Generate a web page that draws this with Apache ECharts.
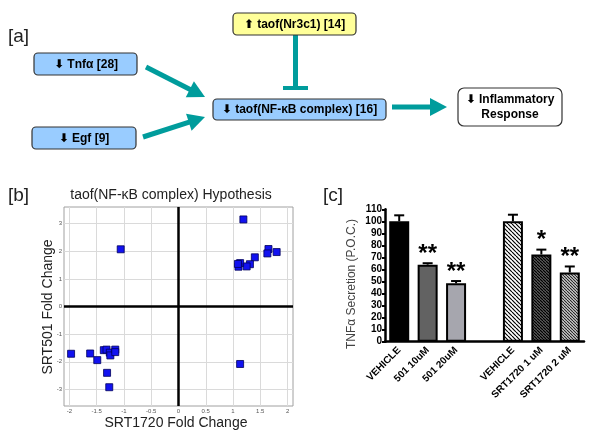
<!DOCTYPE html>
<html><head><meta charset="utf-8">
<script src="https://cdn.jsdelivr.net/npm/echarts@6/dist/echarts.min.js"></script>
<style>html,body{margin:0;padding:0;background:#fff}#c{width:600px;height:440px}</style>
</head><body><div id="c"></div>
<script>
// ---- Panel [b] data ----
const scatterX = [1.19, 1.65, 1.63, 1.80, 1.40, 1.31, 1.25, 1.13, 1.10, 1.09,
                  -1.06, 1.13,
                  -1.97, -1.62, -1.49, -1.37, -1.32, -1.26, -1.25, -1.16, -1.16, -1.31, -1.27];
const scatterY = [3.15, 2.08, 1.92, 1.97, 1.78, 1.53, 1.45, 1.57, 1.44, 1.54,
                  2.07, -2.08,
                  -1.71, -1.70, -1.94, -1.58, -1.56, -1.67, -1.77, -1.56, -1.65, -2.40, -2.92];
const xTicks = [-2, -1.5, -1, -0.5, 0, 0.5, 1, 1.5, 2];
const xTickLabels = ['-2', '-1.5', '-1', '-0.5', '0', '0.5', '1', '1.5', '2'];
const yTicks = [3, 2, 1, 0, -1, -2, -3];
const yTickLabels = ['3', '2', '1', '0', '-1', '-2', '-3'];

// ---- Panel [c] data ----
const barCategories = ['VEHICLE', '501 10uM', '501 20uM', '', 'VEHICLE', 'SRT1720 1 uM', 'SRT1720 2 uM'];
const barValues = [100, 64, 48.5, null, 100, 72.5, 57.5];
const barErrors = [5, 1.2, 1.9, null, 5.5, 4, 5];
const barSig = ['', '**', '**', '', '', '*', '**'];

const FONT = 'Liberation Sans, Arial, DejaVu Sans, sans-serif';
const TEAL = '#009c9c';

function hatch(bg, fg, size, lw) {
  const c = document.createElement('canvas');
  c.width = size; c.height = size;
  const g = c.getContext('2d');
  g.fillStyle = bg; g.fillRect(0, 0, size, size);
  g.strokeStyle = fg; g.lineWidth = lw;
  for (let k = -1; k <= 1; k++) {
    g.beginPath(); g.moveTo(k * size, 0); g.lineTo(k * size + size, size); g.stroke();
  }
  return c;
}
const barFills = [
  '#000000', '#626262', '#a6a6ae', '#ffffff',
  { image: hatch('#ffffff', '#000000', 4, 1.2), repeat: 'repeat' },
  { image: hatch('#707070', '#000000', 3, 1.3), repeat: 'repeat' },
  { image: hatch('#dcdcdc', '#222222', 3, 1.1), repeat: 'repeat' }
];

function txt(x, y, s, opts) {
  opts = opts || {};
  return {
    type: 'text', x: x, y: y, rotation: opts.rot || 0, z: 20,
    style: {
      text: s, fill: opts.color || '#000',
      font: (opts.weight || 'normal') + ' ' + (opts.size || 12) + 'px ' + FONT,
      textAlign: opts.align || 'center', align: opts.align || 'center',
      textVerticalAlign: 'middle', verticalAlign: 'middle',
      lineHeight: opts.lh || undefined
    }
  };
}
function box(x, y, w, h, fill, r) {
  return { type: 'rect', shape: { x: x, y: y, width: w, height: h, r: r || 4 }, z: 10,
           style: { fill: fill, stroke: '#333', lineWidth: 1.2 } };
}
function arrow(x1, y1, x2, y2) {
  const dx = x2 - x1, dy = y2 - y1, len = Math.hypot(dx, dy);
  const ux = dx / len, uy = dy / len, px = -uy, py = ux;
  const L = 17, W = 9;
  const bx = x2 - ux * L, by = y2 - uy * L;
  return [
    { type: 'line', z: 5, shape: { x1: x1, y1: y1, x2: bx + ux * 2, y2: by + uy * 2 }, style: { stroke: TEAL, lineWidth: 5 } },
    { type: 'polygon', z: 5, shape: { points: [[x2, y2], [bx + px * W, by + py * W], [bx - px * W, by - py * W]] }, style: { fill: TEAL } }
  ];
}

const graphics = [].concat(
  [txt(8, 37, '[a]', { size: 19, align: 'left', color: '#222' }),
   txt(8, 196, '[b]', { size: 19, align: 'left', color: '#222' }),
   txt(323, 196, '[c]', { size: 19, align: 'left', color: '#222' })],
  arrow(146, 67, 205, 97),
  arrow(143, 137, 205, 117),
  arrow(392, 107, 447, 107),
  [{ type: 'line', z: 5, shape: { x1: 295.5, y1: 35, x2: 295.5, y2: 88 }, style: { stroke: TEAL, lineWidth: 5 } },
   { type: 'line', z: 5, shape: { x1: 283, y1: 88, x2: 308, y2: 88 }, style: { stroke: TEAL, lineWidth: 4 } },
   box(34, 53, 103, 22, '#99ccff'), txt(86, 64.5, '⬇ Tnfα [28]', { weight: 'bold', size: 12 }),
   box(32, 127, 104, 22, '#99ccff'), txt(84, 138.5, '⬇ Egf [9]', { weight: 'bold', size: 12 }),
   box(233, 13, 123, 22, '#ffff99'), txt(294.5, 24.5, '⬆ taof(Nr3c1) [14]', { weight: 'bold', size: 12 }),
   box(213, 99, 173, 21, '#99ccff'), txt(299.5, 110, '⬇ taof(NF-κB complex) [16]', { weight: 'bold', size: 12 }),
   box(458, 88, 104, 38, '#ffffff', 6), txt(510, 107.5, '⬇ Inflammatory\nResponse', { weight: 'bold', size: 12, lh: 15 }),
   txt(171, 195, 'taof(NF-κB complex) Hypothesis', { size: 14, color: '#222' }),
   txt(48, 307, 'SRT501 Fold Change', { size: 14, color: '#222', rot: Math.PI / 2 }),
   txt(176, 423, 'SRT1720 Fold Change', { size: 14, color: '#222' }),
   txt(352, 284, 'TNFα Secretion (P.O.C.)', { size: 12, color: '#444', rot: Math.PI / 2 })]
);

const chart = echarts.init(document.getElementById('c'), null, { renderer: 'canvas' });
chart.setOption({
  animation: false,
  backgroundColor: '#fff',
  textStyle: { fontFamily: FONT },
  graphic: { elements: graphics },
  grid: [
    { left: 64, top: 207, width: 229, height: 199, show: true, borderColor: '#a0a0a0', borderWidth: 1, backgroundColor: '#fff' },
    { left: 385, top: 209.3, width: 199, height: 132.4 }
  ],
  xAxis: [
    { type: 'value', gridIndex: 0, min: -2.1, max: 2.1, axisLine: { show: false }, axisTick: { show: false }, axisLabel: { show: false }, splitLine: { show: false } },
    { type: 'category', gridIndex: 1, data: barCategories,
      axisLine: { lineStyle: { color: '#000', width: 2.5 } },
      axisTick: { alignWithLabel: true, length: 4, lineStyle: { color: '#000', width: 2 } },
      axisLabel: { rotate: 45, interval: 0, fontWeight: 'bold', fontSize: 10, color: '#000', margin: 7 } }
  ],
  yAxis: [
    { type: 'value', gridIndex: 0, min: -3.6, max: 3.6, axisLine: { show: false }, axisTick: { show: false }, axisLabel: { show: false }, splitLine: { show: false } },
    { type: 'value', gridIndex: 1, min: 0, max: 110, interval: 10,
      axisLine: { show: true, lineStyle: { color: '#000', width: 2.5 } },
      axisTick: { show: true, length: 3, lineStyle: { color: '#000', width: 2 } },
      axisLabel: { fontWeight: 'bold', fontSize: 10, color: '#000', margin: 3 },
      splitLine: { show: false } }
  ],
  series: [
    { type: 'line', xAxisIndex: 0, yAxisIndex: 0, data: [], z: 1,
      markLine: { silent: true, symbol: ['none', 'none'], animation: false,
        lineStyle: { color: '#dadada', width: 1, type: 'solid' },
        label: { show: true, position: 'start', fontSize: 6, color: '#555', distance: 2 },
        data: xTicks.map((v, i) => ({ xAxis: v, label: { formatter: xTickLabels[i] } }))
          .concat(yTicks.map((v, i) => ({ yAxis: v, label: { formatter: yTickLabels[i] } }))) } },
    { type: 'line', xAxisIndex: 0, yAxisIndex: 0, data: [], z: 2,
      markLine: { silent: true, symbol: ['none', 'none'], animation: false,
        lineStyle: { color: '#000', width: 2.5, type: 'solid' },
        label: { show: false },
        data: [{ xAxis: 0 }, { yAxis: 0 }] } },
    { type: 'scatter', xAxisIndex: 0, yAxisIndex: 0, z: 5, symbol: 'rect', symbolSize: 7,
      itemStyle: { color: '#1212f0', borderColor: '#00005a', borderWidth: 0.8, opacity: 1 },
      data: scatterX.map((x, i) => [x, scatterY[i]]) },
    { type: 'bar', xAxisIndex: 1, yAxisIndex: 1, barWidth: 20, z: 3,
      data: barValues.map((v, i) => v == null ? '-' : { value: v, itemStyle: { color: barFills[i], borderColor: '#000', borderWidth: 2 } }) },
    { type: 'custom', xAxisIndex: 1, yAxisIndex: 1, z: 4,
      encode: { x: 0, y: 1 },
      data: barValues.map((v, i) => v == null ? null : [i, v, barErrors[i]]).filter(d => d),
      renderItem: function (params, api) {
        const i = api.value(0), v = api.value(1), e = api.value(2);
        const base = api.coord([i, v]), top = api.coord([i, v + e]);
        const ch = [
          { type: 'line', shape: { x1: base[0], y1: base[1], x2: top[0], y2: top[1] }, style: { stroke: '#000', lineWidth: 2 } },
          { type: 'line', shape: { x1: top[0] - 5, y1: top[1], x2: top[0] + 5, y2: top[1] }, style: { stroke: '#000', lineWidth: 2 } }
        ];
        const s = barSig[i];
        if (s) ch.push({ type: 'text', x: top[0], y: top[1] - 9,
          style: { text: s, fill: '#000', font: 'bold 24px ' + FONT, textAlign: 'center', align: 'center', textVerticalAlign: 'middle', verticalAlign: 'middle' } });
        return { type: 'group', children: ch };
      } }
  ]
});
</script></body></html>
